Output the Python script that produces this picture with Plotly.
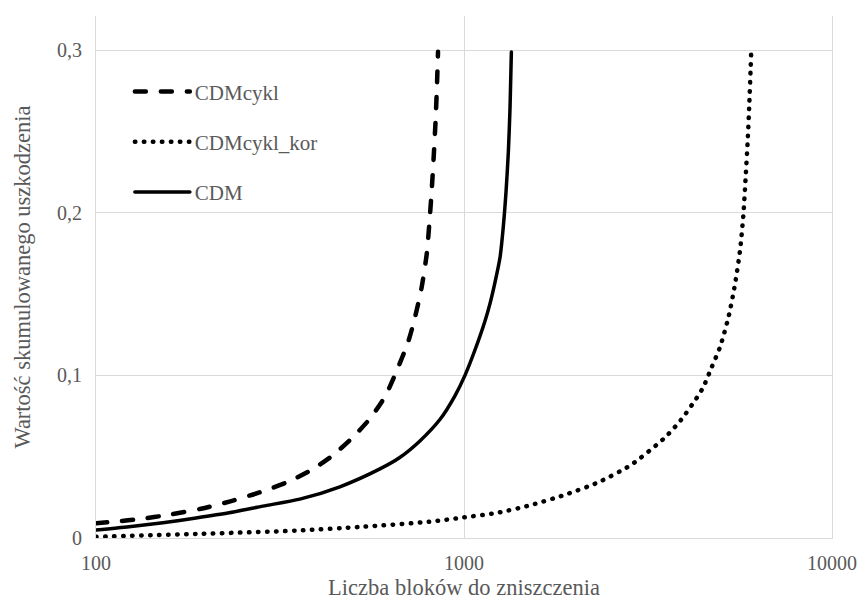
import plotly.graph_objects as go

# Cumulative damage D versus number of load blocks N
n_cdmcykl = [100, 130, 160, 193, 233, 278, 332, 384, 438, 496, 556, 611, 656, 706,
             736, 767, 792, 806, 818, 828, 837, 844, 850]
d_cdmcykl = [0.009, 0.0115, 0.0145, 0.018, 0.0227, 0.028, 0.0345, 0.0417, 0.0505,
             0.0614, 0.0736, 0.0873, 0.1027, 0.121, 0.1357, 0.154, 0.1747, 0.195,
             0.2155, 0.236, 0.2565, 0.277, 0.299]

n_cdmcykl_kor = [100, 187, 349, 530, 805, 1000, 1232, 1517, 1870, 2303, 2837, 3494,
                 3881, 4305, 4470, 4710, 4962, 5230, 5450, 5623, 5740, 5825, 5900,
                 5960, 6030]
d_cdmcykl_kor = [0.0008, 0.0025, 0.0045, 0.0069, 0.01, 0.0127, 0.0155, 0.0202,
                 0.0264, 0.034, 0.0448, 0.0612, 0.0724, 0.0867, 0.0928, 0.105,
                 0.1174, 0.1357, 0.156, 0.1767, 0.198, 0.2217, 0.244, 0.2667, 0.298]

n_cdm = [100, 123, 152, 187, 230, 284, 358, 460, 591, 669, 759, 861, 944, 1006,
         1071, 1140, 1177, 1214, 1253, 1279, 1301, 1320, 1334, 1345]
d_cdm = [0.0049, 0.0069, 0.0094, 0.0123, 0.0155, 0.0196, 0.0239, 0.0315, 0.0425,
         0.0495, 0.0597, 0.073, 0.0873, 0.1, 0.1156, 0.1333, 0.1443, 0.1572, 0.1726,
         0.1916, 0.2131, 0.2376, 0.2652, 0.2989]

series_names = ["CDMcykl", "CDMcykl_kor", "CDM"]

x_ticks = [100, 1000, 10000]
x_tick_labels = ["100", "1000", "10000"]
y_ticks = [0, 0.1, 0.2, 0.3]
y_tick_labels = ["0", "0,1", "0,2", "0,3"]

FONT = "Times New Roman, Liberation Serif, DejaVu Serif, serif"
GREY = "#595959"
GRID = "#d9d9d9"

fig = go.Figure()
fig.add_trace(go.Scatter(x=n_cdmcykl, y=d_cdmcykl, name=series_names[0], mode="lines",
                         line=dict(color="black", width=4.5, dash="11px,15px",
                                   shape="spline", smoothing=0.7),
                         legendgroup="a"))
fig.add_trace(go.Scatter(x=n_cdmcykl_kor, y=d_cdmcykl_kor, name=series_names[1],
                         mode="lines",
                         line=dict(color="black", width=4.5, dash="0.5px,8.5px",
                                   shape="spline", smoothing=0.7),
                         legendgroup="b"))
fig.add_trace(go.Scatter(x=n_cdm, y=d_cdm, name=series_names[2], mode="lines",
                         line=dict(color="black", width=3.5, shape="spline",
                                   smoothing=0.7),
                         legendgroup="c"))

# White backdrop behind the legend, hiding the gridline there
fig.add_shape(type="rect", xref="paper", yref="paper", layer="between",
              x0=0.029, x1=0.326, y0=0.6, y1=0.91,
              fillcolor="white", line=dict(width=0))

fig.update_layout(
    width=859, height=600,
    margin=dict(l=96, r=27, t=16, b=62, autoexpand=False),
    paper_bgcolor="white", plot_bgcolor="white",
    font=dict(family=FONT, size=19, color=GREY),
    showlegend=True,
    legend=dict(x=0.046, y=0.894, xanchor="left", yanchor="top",
                bgcolor="rgba(0,0,0,0)", borderwidth=0, itemwidth=55,
                tracegroupgap=20,
                font=dict(family=FONT, size=21, color=GREY),
                traceorder="grouped"),
)
fig.update_xaxes(type="log", range=[2, 4], tickvals=x_ticks, ticktext=x_tick_labels,
                 showgrid=True, gridcolor=GRID, gridwidth=1, automargin=False,
                 showline=True, linecolor=GRID, linewidth=1,
                 ticks="", ticklabelstandoff=7, zeroline=False,
                 tickfont=dict(family=FONT, size=20, color=GREY),
                 title=dict(text="Liczba bloków do zniszczenia",
                            font=dict(family=FONT, size=22.5, color=GREY), standoff=12))
fig.update_yaxes(range=[0, 0.321], tickvals=y_ticks, ticktext=y_tick_labels,
                 showgrid=True, gridcolor=GRID, gridwidth=1, automargin=False,
                 showline=True, linecolor=GRID, linewidth=1, mirror=True,
                 ticks="", ticklabelstandoff=9, zeroline=False,
                 tickfont=dict(family=FONT, size=20, color=GREY),
                 title=dict(text="Wartość skumulowanego uszkodzenia",
                            font=dict(family=FONT, size=22.5, color=GREY), standoff=20))

# Round line caps give the dashes and dots their rounded ends
post_js = """
var gd = document.getElementById('{plot_id}');
function roundCaps() {
  gd.querySelectorAll('path.js-line').forEach(function (p) {
    p.style.strokeLinecap = 'round';
    p.style.strokeLinejoin = 'round';
  });
}
roundCaps();
gd.on('plotly_afterplot', roundCaps);
"""

fig.write_html("out.html", post_script=post_js)
